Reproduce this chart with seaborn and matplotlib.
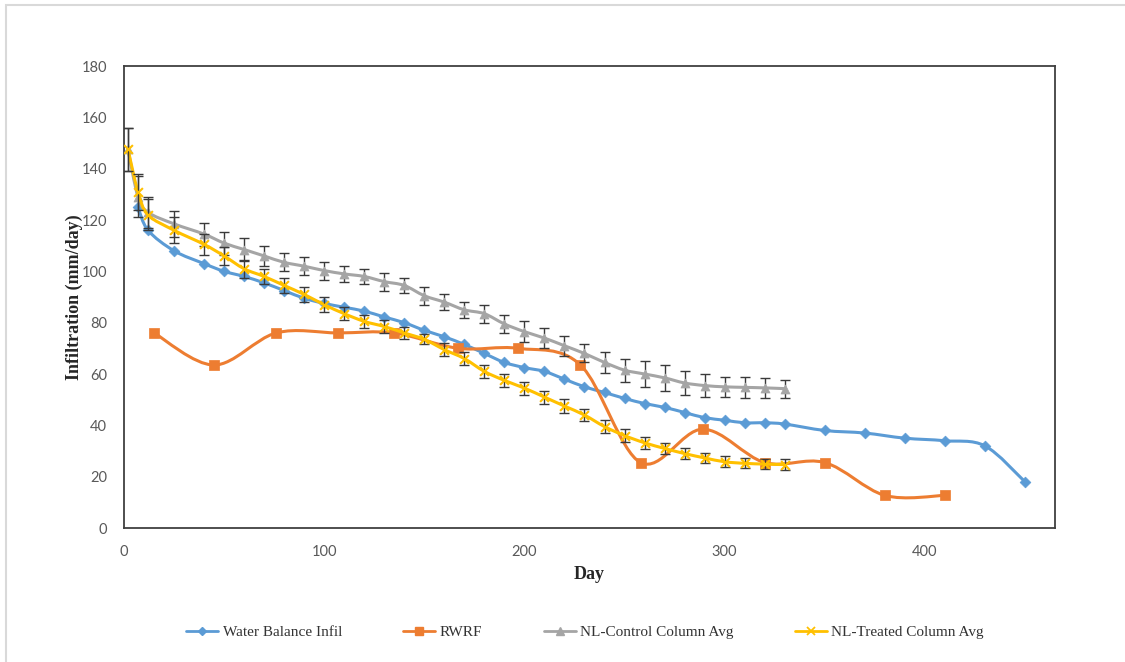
"""
Infiltration vs day - four series, Excel-style smoothed lines with error bars.
"""

import matplotlib
matplotlib.use("Agg")
import matplotlib.pyplot as plt
from matplotlib.path import Path
from matplotlib.patches import PathPatch, Rectangle
from matplotlib.lines import Line2D
import numpy as np
import seaborn as sns


# --- data ------------------------------------------------------------------
wb_day = [7, 12, 25, 40, 50, 60, 70, 80, 90, 100, 110, 120, 130, 140, 150, 160,
          170, 180, 190, 200, 210, 220, 230, 240, 250, 260, 270, 280, 290, 300,
          310, 320, 330, 350, 370, 390, 410, 430, 450]
wb_val = [125, 116, 108, 103, 100, 98, 95.5, 92.5, 89.5, 87.5, 86, 84.5, 82.2,
          80, 77, 74.5, 71.5, 68, 64.5, 62.5, 61, 58, 55, 52.8, 50.5, 48.5, 47,
          45, 43, 42, 41, 41, 40.5, 38, 37, 35, 34, 32, 18]

rwrf_day = [15, 45, 76, 107, 135, 167, 197, 228, 258, 289, 320, 350, 380, 410]
rwrf_val = [76, 63.5, 76, 76, 76, 70, 70, 63.5, 25.5, 38.5, 25.5, 25.5, 12.7, 12.7]

nl_day = [2, 7, 12, 25, 40, 50, 60, 70, 80, 90, 100, 110, 120, 130, 140, 150,
          160, 170, 180, 190, 200, 210, 220, 230, 240, 250, 260, 270, 280, 290,
          300, 310, 320, 330]
ctrl_val = [147.5, 129, 123, 118.5, 114.5, 111, 108.5, 106, 103.5, 102, 100.3,
            99, 98, 96, 94.5, 90.5, 88, 85, 83.5, 79.5, 76.5, 74, 71, 68, 64.5,
            61.5, 60, 58.5, 56.5, 55.5, 55, 54.8, 54.6, 54.3]
ctrl_err = [8.5, 8, 6, 5, 4.5, 4.5, 4.5, 4, 3.5, 3.5, 3.5, 3, 3, 3.5, 3, 3.5,
            3, 3, 3.5, 3.5, 4, 4, 4, 3.5, 4, 4.5, 5, 5, 4.5, 4.5, 4, 4, 4, 3.5]
treat_val = [147.5, 131, 122, 116, 110.5, 106, 101, 98, 94.5, 91, 87, 83.5,
             80.5, 78.5, 76, 73.5, 69.5, 66, 61, 57.5, 54.5, 51, 47.5, 44, 39.5,
             36, 33.2, 31, 29, 27.3, 25.8, 25.2, 24.9, 24.7]
treat_err = [8.5, 7, 6, 5, 4, 3.5, 3.5, 3, 3, 3, 3, 2.5, 2.5, 2.5, 2.5, 2,
             2.5, 2.5, 2.5, 2.5, 2.5, 2.5, 2.8, 2.5, 2.5, 2.4, 2.3, 2.2, 2.2,
             2.1, 2.1, 2, 2, 2]

labels = ["Water Balance Infil", "RWRF", "NL-Control Column Avg",
          "NL-Treated Column Avg"]
colors = ["#5B9BD5", "#ED7D31", "#A5A5A5", "#FFC000"]


def smooth_path(x, y):
    """Catmull-Rom style bezier through the points (like Excel's smoothed line)."""
    pts = np.column_stack([np.asarray(x, float), np.asarray(y, float)])
    n = len(pts)
    verts = [pts[0]]
    codes = [Path.MOVETO]
    for i in range(n - 1):
        p0 = pts[i - 1] if i > 0 else pts[i]
        p1 = pts[i]
        p2 = pts[i + 1]
        p3 = pts[i + 2] if i + 2 < n else pts[i + 1]
        verts += [p1 + (p2 - p0) / 6, p2 - (p3 - p1) / 6, p2]
        codes += [Path.CURVE4] * 3
    return Path(verts, codes)


sns.set_theme(style="white")
plt.rcParams["font.family"] = ["Lato", "DejaVu Sans"]

fig = plt.figure(figsize=(11.25, 6.62), dpi=100)
ax = fig.add_axes([0.1102, 0.2024, 0.8276, 0.6979])

series = [
    (wb_day, wb_val, None, "D", 30),
    (rwrf_day, rwrf_val, None, "s", 42),
    (nl_day, ctrl_val, ctrl_err, "^", 42),
    (nl_day, treat_val, treat_err, "x", 40),
]

for k, (xs, ys, err, mk, size) in enumerate(series):
    z = 2 + k * 0.3
    ax.add_patch(PathPatch(smooth_path(xs, ys), fill=False, edgecolor=colors[k],
                           lw=2.2, zorder=z, capstyle="round"))
    if err is not None:
        ax.errorbar(xs, ys, yerr=err, fmt="none", ecolor="#3a3a3a",
                    elinewidth=1.0, capsize=3.5, capthick=1.0, zorder=z + 0.1)
    if mk == "x":
        sns.scatterplot(x=xs, y=ys, marker=mk, s=size, color=colors[k],
                        linewidth=1.5, ax=ax, zorder=z + 0.2, legend=False)
    else:
        sns.scatterplot(x=xs, y=ys, marker=mk, s=size, color=colors[k],
                        edgecolor=colors[k], linewidth=0.5, ax=ax,
                        zorder=z + 0.2, legend=False)

ax.set_xlim(0, 465)
ax.set_ylim(0, 180)
ax.set_xticks(range(0, 401, 100))
ax.set_yticks(range(0, 181, 20))
ax.tick_params(axis="both", length=0, labelsize=10.5, labelcolor="#595959")
ax.tick_params(axis="y", pad=12)
ax.tick_params(axis="x", pad=12)
for side in ax.spines.values():
    side.set_color("#404040")
    side.set_linewidth(1.3)

serif_bold = {"family": "Liberation Serif", "weight": "bold", "size": 13}
ax.set_xlabel("Day", fontdict=serif_bold, labelpad=5)
ax.set_ylabel("Infiltration (mm/day)", fontdict=serif_bold, labelpad=-1)

handles = [
    Line2D([], [], color=colors[0], lw=2, marker="D", markersize=4.5),
    Line2D([], [], color=colors[1], lw=2, marker="s", markersize=5.5),
    Line2D([], [], color=colors[2], lw=2, marker="^", markersize=5.5),
    Line2D([], [], color=colors[3], lw=2, marker="x", markersize=6, mew=1.3),
]
leg = fig.legend(handles, labels, loc="center", bbox_to_anchor=(0.52, 0.045),
                 ncol=4, frameon=False, columnspacing=4.0, handlelength=2.1,
                 handletextpad=0.3,
                 prop={"family": "Liberation Serif", "size": 11})
for t in leg.get_texts():
    t.set_color("#333333")

# light chart-area border (only top and left edges show in the reference)
fig.add_artist(Rectangle((0.0053, -0.05), 1.1, 0.9924 + 0.05,
                         transform=fig.transFigure, fill=False,
                         edgecolor="#d9d9d9", lw=1.5))

fig.savefig("out.png", dpi=100)
plt.close(fig)
